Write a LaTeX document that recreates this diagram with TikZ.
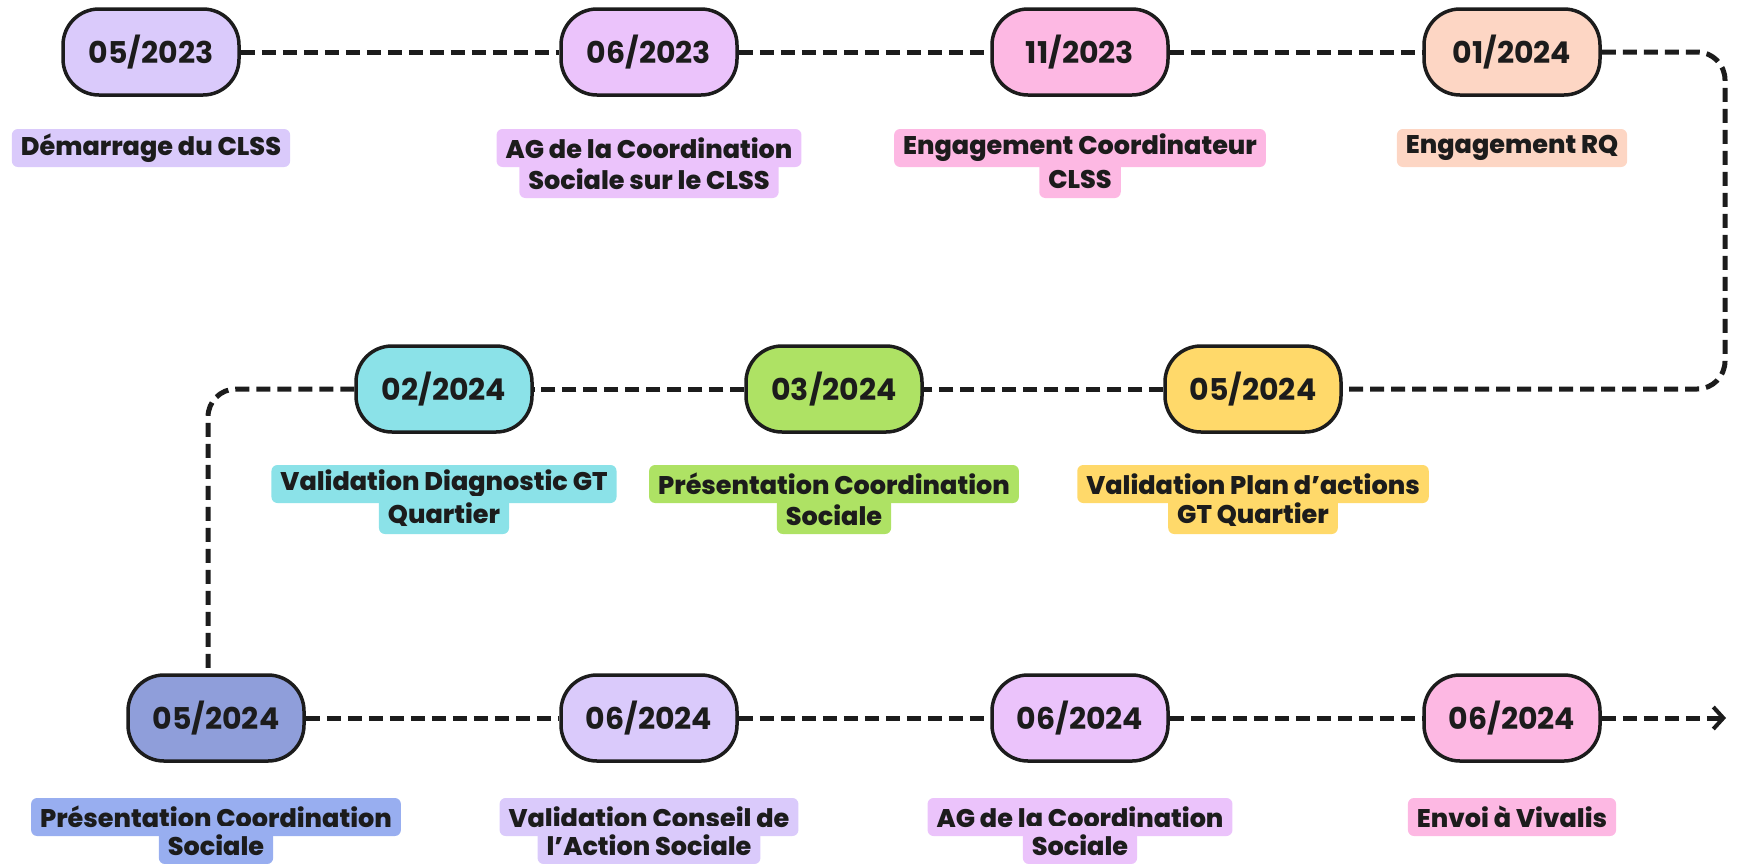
\documentclass[tikz,border=0pt]{standalone}
\usepackage{fontspec}
\setmainfont{Poppins}[BoldFont={Poppins ExtraBold}]
\newfontfamily\datefont{Poppins}[BoldFont={Poppins Bold}]
\usetikzlibrary{arrows.meta}

\definecolor{lilas}{HTML}{DACAFB}
\definecolor{mauve}{HTML}{EBC3FB}
\definecolor{rose}{HTML}{FDB8E3}
\definecolor{peche}{HTML}{FDD6C4}
\definecolor{cyan}{HTML}{8BE2E8}
\definecolor{vert}{HTML}{AEE264}
\definecolor{jaune}{HTML}{FFD96A}
\definecolor{bleu}{HTML}{8F9EDA}
\definecolor{bleulab}{HTML}{98AEF0}
\definecolor{encre}{HTML}{1C1C1C}

\tikzset{
  date/.style={draw=encre, line width=3.5pt, rounded corners=36pt, minimum width=176pt,
    minimum height=86pt, text=encre, font=\datefont\fontsize{30}{30}\selectfont\bfseries},
  tag/.style={rounded corners=6pt, inner xsep=9pt, inner ysep=0pt, minimum height=38pt,
    text=encre, font=\fontsize{25.5}{25.5}\selectfont\bfseries},
  link/.style={encre, line width=5pt, dash pattern=on 14pt off 7pt, rounded corners=28pt}
}

\begin{document}
\begin{tikzpicture}[x=1pt,y=-1pt]
\useasboundingbox (0,0) rectangle (1742,863);

% first row
\node[date, fill=lilas] (d1) at (151,52) {05/2023};
\node[date, fill=mauve] (d2) at (649,52) {06/2023};
\node[date, fill=rose] (d3) at (1080,52) {11/2023};
\node[date, fill=peche] (d4) at (1512,52) {01/2024};

\node[tag, fill=lilas] (t1) at (151,148) {Démarrage du CLSS};
\node[tag, fill=mauve] (t2a) at (649,148) {AG de la Coordination};
\node[tag, fill=mauve] (t2b) at (649,179) {Sociale sur le CLSS};
\node[tag, fill=rose] (t3a) at (1080,148) {Engagement Coordinateur};
\node[tag, fill=rose] (t3b) at (1080,179) {CLSS};
\node[tag, fill=peche] (t4) at (1512,148) {Engagement RQ};

% second row
\node[date, fill=cyan] (d5) at (444,389) {02/2024};
\node[date, fill=vert] (d6) at (834,389) {03/2024};
\node[date, fill=jaune] (d7) at (1253,389) {05/2024};

\node[tag, fill=cyan] (t5a) at (444,484) {Validation Diagnostic GT};
\node[tag, fill=cyan] (t5b) at (444,515) {Quartier};
\node[tag, fill=vert] (t6a) at (834,484) {Présentation Coordination};
\node[tag, fill=vert] (t6b) at (834,515) {Sociale};
\node[tag, fill=jaune] (t7a) at (1253,484) {Validation Plan d’actions};
\node[tag, fill=jaune] (t7b) at (1253,515) {GT Quartier};

% third row
\node[date, fill=bleu] (d8) at (216,718) {05/2024};
\node[date, fill=lilas] (d9) at (649,718) {06/2024};
\node[date, fill=mauve] (d10) at (1080,718) {06/2024};
\node[date, fill=rose] (d11) at (1512,718) {06/2024};

\node[tag, fill=bleulab] (t8a) at (216,817) {Présentation Coordination};
\node[tag, fill=bleulab] (t8b) at (216,845) {Sociale};
\node[tag, fill=lilas] (t9a) at (649,817) {Validation Conseil de};
\node[tag, fill=lilas] (t9b) at (649,845) {l’Action Sociale};
\node[tag, fill=mauve] (t10a) at (1080,817) {AG de la Coordination};
\node[tag, fill=mauve] (t10b) at (1080,845) {Sociale};
\node[tag, fill=rose] (t11) at (1512,817) {Envoi à Vivalis};

\coordinate (tourD) at (1725,220);
\coordinate (fin) at (1726,718);

% connectors
\draw[link] (d1) -- (d2);
\draw[link] (d2) -- (d3);
\draw[link] (d3) -- (d4);
\draw[link] (d4.east) -| (tourD) |- (d7.east);
\draw[link] (d7) -- (d6);
\draw[link] (d6) -- (d5);
\draw[link] (d5.west) -| ([xshift=-8pt]d8.north);
\draw[link] (d8) -- (d9);
\draw[link] (d9) -- (d10);
\draw[link] (d10) -- (d11);
\draw[link, -{Straight Barb[length=10pt,width=22pt,line width=4pt]}] (d11.east) -- (fin);
\end{tikzpicture}
\end{document}
